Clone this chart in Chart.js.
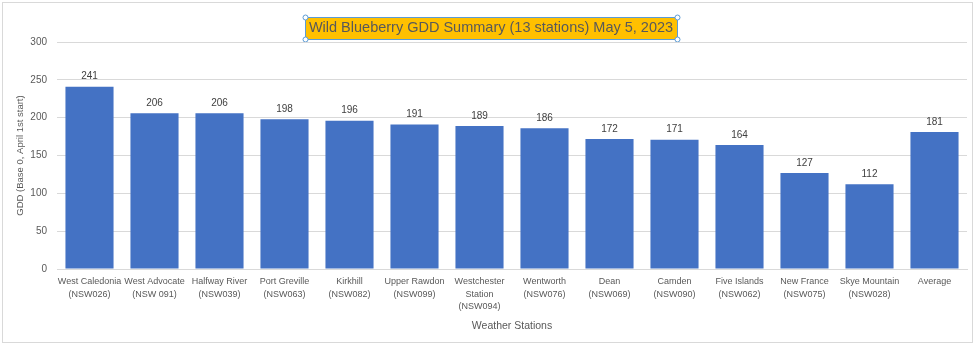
<!DOCTYPE html>
<html>
<head>
<meta charset="utf-8">
<script src="https://cdn.jsdelivr.net/npm/chart.js@4"></script>
<style>
html,body{margin:0;padding:0;background:#fff;}
#wrap{position:relative;width:975px;height:345px;}
</style>
</head>
<body>
<div id="wrap"><canvas id="c" width="975" height="345"></canvas></div>
<script>
const categories = [
  ["West Caledonia","(NSW026)"],
  ["West Advocate","(NSW 091)"],
  ["Halfway River","(NSW039)"],
  ["Port Greville","(NSW063)"],
  ["Kirkhill","(NSW082)"],
  ["Upper Rawdon","(NSW099)"],
  ["Westchester","Station","(NSW094)"],
  ["Wentworth","(NSW076)"],
  ["Dean","(NSW069)"],
  ["Camden","(NSW090)"],
  ["Five Islands","(NSW062)"],
  ["New France","(NSW075)"],
  ["Skye Mountain","(NSW028)"],
  ["Average"]
];
const gddValues = [241, 206, 206, 198, 196, 191, 189, 186, 172, 171, 164, 127, 112, 181];
const yTicks = [0, 50, 100, 150, 200, 250, 300];
const titleText = "Wild Blueberry GDD Summary (13 stations) May 5, 2023";
const yTitle = "GDD (Base 0, April 1st start)";
const xTitle = "Weather Stations";

const FONT = "'Liberation Sans', Arial, sans-serif";

const framePlugin = {
  id: 'frame',
  beforeDraw(chart) {
    const ctx = chart.ctx;
    ctx.save();
    ctx.fillStyle = '#fff';
    ctx.fillRect(0, 0, chart.width, chart.height);
    ctx.strokeStyle = '#d9d9d9';
    ctx.lineWidth = 1;
    ctx.strokeRect(2.5, 2.5, chart.width - 5, chart.height - 5);
    const t = chart.titleBlock;
    if (t) {
      ctx.font = t.options.font.size + 'px ' + FONT;
      const w = ctx.measureText(titleText).width;
      const cx = (t.left + t.right) / 2;
      const x0 = Math.round(cx - w / 2 - 4) + 0.5;
      const x1 = Math.round(cx + w / 2 + 4) + 0.5;
      const y0 = 17.5, y1 = 39.5;
      ctx.fillStyle = '#FFC000';
      ctx.fillRect(x0, y0, x1 - x0, y1 - y0);
      ctx.strokeStyle = '#5B9BD5';
      ctx.strokeRect(x0, y0, x1 - x0, y1 - y0);
      ctx.fillStyle = '#fff';
      const pts = [[x0,y0],[x1,y0],[x0,y1],[x1,y1]];
      pts.forEach(p => { ctx.beginPath(); ctx.arc(p[0], p[1], 2.5, 0, Math.PI*2); ctx.fill(); ctx.stroke(); });
    }
    ctx.restore();
  }
};

const valueLabels = {
  id: 'valueLabels',
  afterDatasetsDraw(chart) {
    const ctx = chart.ctx;
    const meta = chart.getDatasetMeta(0);
    ctx.save();
    ctx.font = '10px ' + FONT;
    ctx.fillStyle = '#404040';
    ctx.textAlign = 'center';
    ctx.textBaseline = 'bottom';
    meta.data.forEach((bar, i) => {
      ctx.fillText(String(gddValues[i]), bar.x, bar.y - 5);
    });
    ctx.restore();
  }
};

new Chart(document.getElementById('c'), {
  type: 'bar',
  data: {
    labels: categories,
    datasets: [{
      data: gddValues,
      backgroundColor: '#4472C4',
      borderWidth: 0,
      categoryPercentage: 1,
      barPercentage: 0.74
    }]
  },
  options: {
    responsive: false,
    animation: false,
    events: [],
    layout: { padding: { left: 15, right: 8, top: 0, bottom: 8 } },
    plugins: {
      legend: { display: false },
      tooltip: { enabled: false },
      title: {
        display: true,
        text: titleText,
        color: '#595959',
        font: { family: FONT, size: 14.5, weight: 'normal' },
        padding: { top: 19, bottom: 5.6 }
      }
    },
    scales: {
      x: {
        grid: { display: false, drawTicks: false },
        border: { display: true, color: '#d9d9d9' },
        ticks: {
          color: '#595959',
          font: { family: FONT, size: 9, lineHeight: 1.42 },
          autoSkip: false,
          maxRotation: 0,
          minRotation: 0,
          padding: 6
        },
        title: {
          display: true,
          text: xTitle,
          color: '#595959',
          font: { family: FONT, size: 10.5 },
          padding: { top: 0, bottom: 5 }
        }
      },
      y: {
        min: 0,
        max: 300,
        afterBuildTicks(scale) { scale.ticks = yTicks.map(v => ({ value: v })); },
        afterFit(scale) { scale.width = 42; },
        grid: { color: '#d9d9d9', drawTicks: false },
        border: { display: false },
        ticks: {
          color: '#595959',
          font: { family: FONT, size: 10 },
          padding: 10
        },
        title: {
          display: true,
          text: yTitle,
          color: '#595959',
          font: { family: FONT, size: 9.5 },
          padding: { top: 0, bottom: 0 }
        }
      }
    }
  },
  plugins: [framePlugin, valueLabels]
});
</script>
</body>
</html>
